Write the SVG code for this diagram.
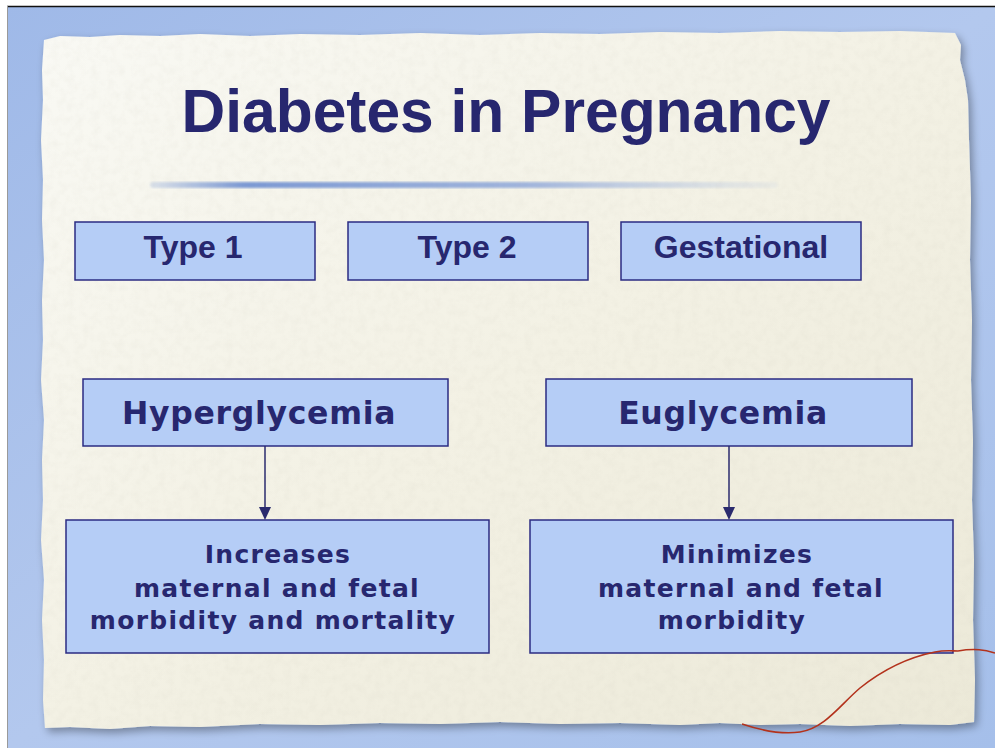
<svg xmlns="http://www.w3.org/2000/svg" width="995" height="748" viewBox="0 0 995 748">
<style>
.box{fill:#b5cdf6;stroke:#2b2b82;stroke-width:1.5}
.t1{font-family:"Liberation Sans",Arial,sans-serif;font-weight:bold;fill:#27276f}
.t2{font-family:"DejaVu Sans",Verdana,sans-serif;font-weight:bold;fill:#27276f}
.conn{stroke:#2b2b6e;stroke-width:1.5;fill:none}
</style>
<defs>
<linearGradient id="bg" x1="0" y1="0" x2="1" y2="1">
<stop offset="0" stop-color="#9fb9e8"/>
<stop offset="0.5" stop-color="#b3c8ee"/>
<stop offset="1" stop-color="#a5bfea"/>
</linearGradient>
<linearGradient id="paper" x1="0" y1="0" x2="1" y2="1">
<stop offset="0" stop-color="#f9f9f4"/>
<stop offset="0.5" stop-color="#f3f1e4"/>
<stop offset="1" stop-color="#ece9d8"/>
</linearGradient>
<linearGradient id="rule" x1="0" y1="0" x2="1" y2="0">
<stop offset="0" stop-color="#6f8fd0" stop-opacity="0.2"/>
<stop offset="0.15" stop-color="#6f8fd0" stop-opacity="0.9"/>
<stop offset="0.6" stop-color="#7d9ad6" stop-opacity="0.7"/>
<stop offset="1" stop-color="#9fb5e0" stop-opacity="0.1"/>
</linearGradient>
<filter id="shadow" x="-5%" y="-5%" width="115%" height="115%">
<feGaussianBlur in="SourceAlpha" stdDeviation="4"/>
<feOffset dx="3" dy="4"/>
<feComponentTransfer><feFuncA type="linear" slope="0.35"/></feComponentTransfer>
<feMerge><feMergeNode/><feMergeNode in="SourceGraphic"/></feMerge>
</filter>
<filter id="tex" x="0" y="0" width="100%" height="100%">
<feTurbulence type="fractalNoise" baseFrequency="0.12" numOctaves="3" seed="4" result="n"/>
<feColorMatrix in="n" type="matrix" values="0 0 0 0 0.55  0 0 0 0 0.53  0 0 0 0 0.45  0 0 0 -1.2 0.75" result="c"/>
<feComposite in="c" in2="SourceGraphic" operator="in"/>
</filter>
<filter id="blur1"><feGaussianBlur stdDeviation="1.2"/></filter>
</defs>

<rect x="0" y="0" width="995" height="748" fill="#ffffff"/>
<rect x="7" y="6" width="988" height="742" fill="url(#bg)"/>
<line x1="7" y1="6.5" x2="995" y2="6.5" stroke="#111" stroke-width="1.5"/>
<line x1="7.5" y1="6" x2="7.5" y2="748" stroke="#9a9a9a" stroke-width="1"/>

<g id="paper-sheet" filter="url(#shadow)">
<path d="M44,40 L60,36 L90,37 L120,35 L160,36 L200,34 L250,36 L300,34 L360,35 L420,33 L480,35 L540,33 L600,34 L660,32 L720,33 L780,31 L840,32 L900,31 L955,33 L961,45 L960,60 L965,80 L968,100 L969,140 L971,200 L970,260 L972,320 L971,380 L973,440 L972,500 L974,560 L973,620 L975,680 L974,722 L950,725 L900,724 L850,726 L800,724 L760,725 L720,723 L680,725 L620,723 L560,724 L500,722 L440,724 L380,723 L320,725 L260,724 L200,727 L150,726 L110,729 L70,727 L45,728 L43,700 L44,660 L42,620 L44,580 L41,540 L43,500 L42,460 L44,420 L41,380 L43,340 L42,300 L44,260 L42,220 L43,180 L41,140 L43,100 L42,70 Z" fill="url(#paper)"/>
</g>
<path d="M44,40 L60,36 L90,37 L120,35 L160,36 L200,34 L250,36 L300,34 L360,35 L420,33 L480,35 L540,33 L600,34 L660,32 L720,33 L780,31 L840,32 L900,31 L955,33 L961,45 L960,60 L965,80 L968,100 L969,140 L971,200 L970,260 L972,320 L971,380 L973,440 L972,500 L974,560 L973,620 L975,680 L974,722 L950,725 L900,724 L850,726 L800,724 L760,725 L720,723 L680,725 L620,723 L560,724 L500,722 L440,724 L380,723 L320,725 L260,724 L200,727 L150,726 L110,729 L70,727 L45,728 L43,700 L44,660 L42,620 L44,580 L41,540 L43,500 L42,460 L44,420 L41,380 L43,340 L42,300 L44,260 L42,220 L43,180 L41,140 L43,100 L42,70 Z" fill="#000" opacity="0.15" filter="url(#tex)"/>

<path d="M958,651 C975,648 985,650 995,653" fill="none" stroke="#b3321c" stroke-width="1.6"/>

<text class="t1" x="506" y="132" font-size="60.5" text-anchor="middle">Diabetes in Pregnancy</text>
<rect x="150" y="182" width="628" height="6" rx="3" fill="url(#rule)" filter="url(#blur1)"/>

<g id="type1"><rect class="box" x="75" y="222" width="240" height="58"/><text class="t1" x="193" y="258" font-size="32" text-anchor="middle">Type 1</text></g>
<g id="type2"><rect class="box" x="348" y="222" width="240" height="58"/><text class="t1" x="467" y="258" font-size="32" text-anchor="middle">Type 2</text></g>
<g id="gestational"><rect class="box" x="621" y="222" width="240" height="58"/><text class="t1" x="741" y="258" font-size="32" text-anchor="middle">Gestational</text></g>

<g id="hyperglycemia"><rect class="box" x="83" y="379" width="365" height="67"/><text class="t2" x="259" y="424" font-size="31.5" letter-spacing="0.7" text-anchor="middle">Hyperglycemia</text></g>
<g id="euglycemia"><rect class="box" x="546" y="379" width="366" height="67"/><text class="t2" x="723" y="424" font-size="31.5" letter-spacing="0.7" text-anchor="middle">Euglycemia</text></g>

<g id="increases"><rect class="box" x="66" y="520" width="423" height="133"/>
<text class="t2" font-size="25" letter-spacing="1.3" text-anchor="middle"><tspan x="278" y="563">Increases</tspan><tspan x="277" y="597">maternal and fetal</tspan><tspan x="273" y="629">morbidity and mortality</tspan></text></g>
<g id="minimizes"><rect class="box" x="530" y="520" width="423" height="133"/>
<text class="t2" font-size="25" letter-spacing="1.3" text-anchor="middle"><tspan x="737" y="563">Minimizes</tspan><tspan x="741" y="597">maternal and fetal</tspan><tspan x="732" y="629">morbidity</tspan></text></g>

<g id="connectors">
<line class="conn" x1="265" y1="446" x2="265" y2="508"/>
<polygon points="259,507 271,507 265,520" fill="#2b2b6e"/>
<line class="conn" x1="729" y1="446" x2="729" y2="508"/>
<polygon points="723,507 735,507 729,520" fill="#2b2b6e"/>
</g>

<path d="M742,724 C760,730 780,735 800,732 C825,728 840,705 860,688 C880,672 905,658 935,652 C945,650 952,651 958,651" fill="none" stroke="#b3321c" stroke-width="1.6"/>
</svg>
